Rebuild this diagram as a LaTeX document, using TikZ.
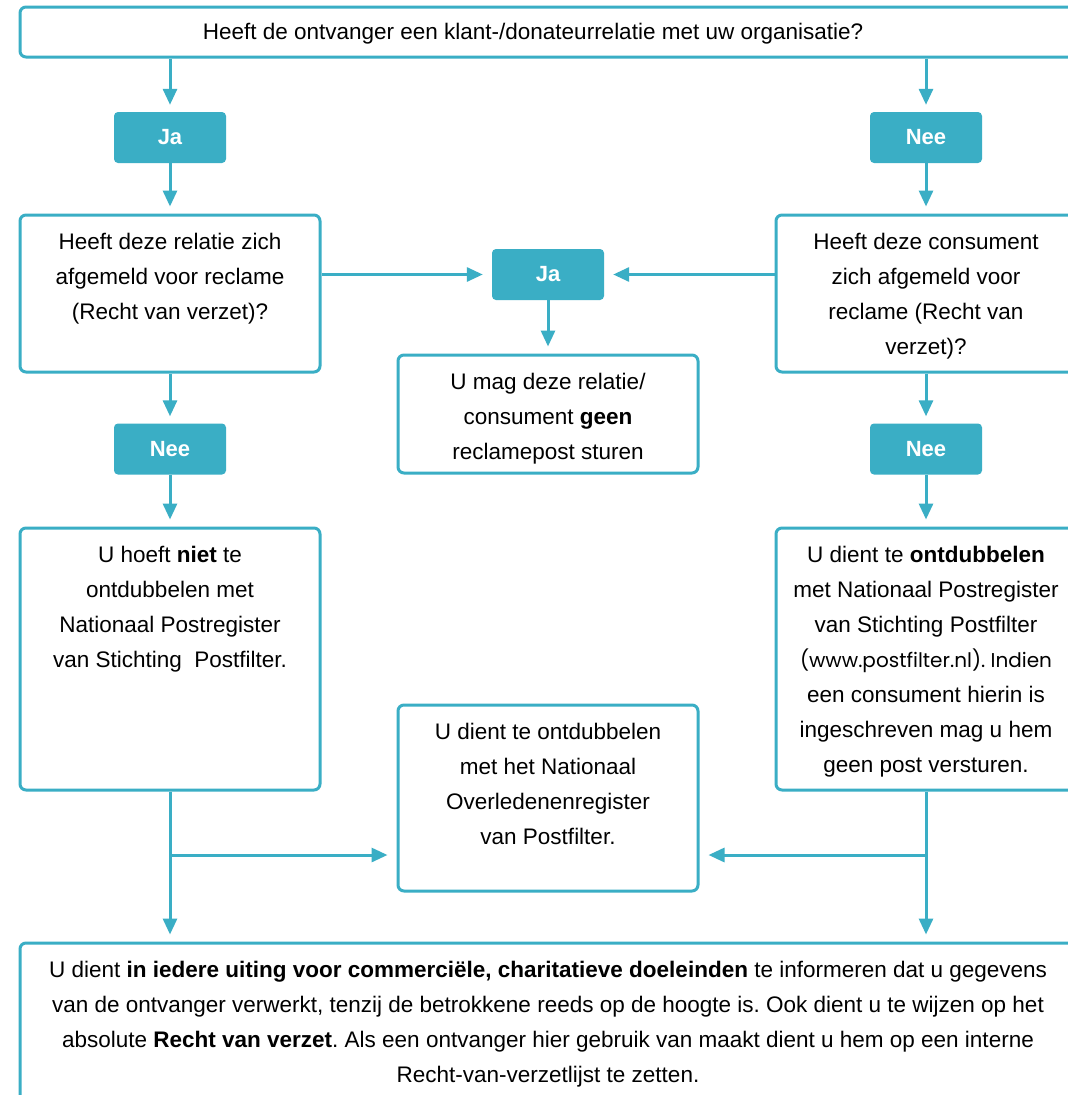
\documentclass[tikz,border=0pt]{standalone}
\usepackage{fontspec}
\setmainfont{Liberation Sans}
\newfontfamily\gothicfont{Poppins}
\usetikzlibrary{arrows.meta}
\definecolor{tealc}{RGB}{58,174,197}
\frenchspacing
\begin{document}
\begin{tikzpicture}[x=1pt,y=-1pt,
  frame/.style={draw=tealc,line width=3pt,rounded corners=6pt,fill=white,inner sep=0pt,minimum width=300pt},
  lab/.style={inner sep=0pt,anchor=north,align=center,font=\fontsize{22.5}{35}\selectfont,yshift=-19.5pt},
  tag/.style={fill=tealc,rounded corners=4pt,minimum width=112pt,minimum height=51pt,inner sep=0pt,text=white,font=\fontsize{22}{26}\selectfont\bfseries},
  arr/.style={draw=tealc,line width=3pt,-{Triangle[length=16pt,width=14pt]},shorten >=7pt},
  arrh/.style={arr,shorten >=9pt},
  ln/.style={draw=tealc,line width=3pt}]
\useasboundingbox (0,0) rectangle (1068,1095);
\clip (0,0) rectangle (1068,1095);
\fill[white] (0,0) rectangle (1068,1095);

\node[frame,minimum width=1056pt,minimum height=50pt] (q) at (548,32) {};
\node[inner sep=0pt,font=\fontsize{22.5}{35}\selectfont] (qt) at (533,34) {Heeft de ontvanger een klant-/donateurrelatie met uw organisatie?};

\node[tag] (ja1) at (170,137.5) {Ja};
\node[tag] (nee1) at (926,137.5) {Nee};

\node[frame,minimum height=157pt] (rel) at (170,293.5) {};
\node[lab] (relt) at (rel.north) {Heeft deze relatie zich\\afgemeld voor reclame\\(Recht van verzet)?};
\node[frame,minimum height=157pt] (con) at (926,293.5) {};
\node[lab] (cont) at (con.north) {Heeft deze consument\\zich afgemeld voor\\reclame (Recht van\\verzet)?};

\node[tag] (ja2) at (548,274.5) {Ja};
\node[frame,minimum height=118pt] (mag) at (548,414) {};
\node[lab] (magt) at (mag.north) {U mag deze relatie/\\consument \textbf{geen}\\reclamepost sturen};

\node[tag] (nee2) at (170,449) {Nee};
\node[tag] (nee3) at (926,449) {Nee};

\node[frame,minimum height=262pt] (niet) at (170,659) {};
\node[lab] (nietT) at (niet.north) {U hoeft \textbf{niet} te\\ontdubbelen met\\Nationaal Postregister\\van Stichting\ \ Postfilter.};
\node[frame,minimum height=262pt] (ont) at (926,659) {};
\node[lab] (ontT) at (ont.north) {U dient te \textbf{ontdubbelen}\\met Nationaal Postregister\\van Stichting Postfilter\\{\gothicfont\fontsize{20}{35}\selectfont (www.postfilter.nl). Indien}\\een consument hierin is\\ingeschreven mag u hem\\geen post versturen.};

\node[frame,minimum height=186pt] (ovl) at (548,798) {};
\node[lab] (ovlT) at (ovl.north) {U dient te ontdubbelen\\met het Nationaal\\Overledenenregister\\van Postfilter.};

\node[frame,minimum width=1056pt,minimum height=200pt] (fin) at (548,1043) {};
\node[lab] (finT) at (fin.north) {U dient \textbf{in iedere uiting voor commerciële, charitatieve doeleinden} te informeren dat u gegevens\\van de ontvanger verwerkt, tenzij de betrokkene reeds op de hoogte is. Ook dient u te wijzen op het\\absolute \textbf{Recht van verzet}. Als een ontvanger hier gebruik van maakt dient u hem op een interne\\Recht-van-verzetlijst te zetten.};

\draw[arr] (q.south -| ja1) -- (ja1);
\draw[arr] (ja1) -- (rel);
\draw[arr] (q.south -| nee1) -- (nee1);
\draw[arr] (nee1) -- (con);
\draw[arrh] (ja2.west -| rel.east) -- (ja2);
\draw[arrh] (ja2.east -| con.west) -- (ja2);
\draw[arr] (ja2) -- (mag);
\draw[arr] (rel) -- (nee2);
\draw[arr] (nee2) -- (niet);
\draw[arr] (con) -- (nee3);
\draw[arr] (nee3) -- (ont);
\coordinate (bl) at (170,855);
\coordinate (br) at (926,855);
\draw[ln] (niet.south) -- (bl);
\draw[arr] (bl) -- (fin.north -| bl);
\draw[arrh] (bl) -- (bl -| ovl.west);
\draw[ln] (ont.south) -- (br);
\draw[arr] (br) -- (fin.north -| br);
\draw[arrh] (br) -- (br -| ovl.east);
\end{tikzpicture}
\end{document}
